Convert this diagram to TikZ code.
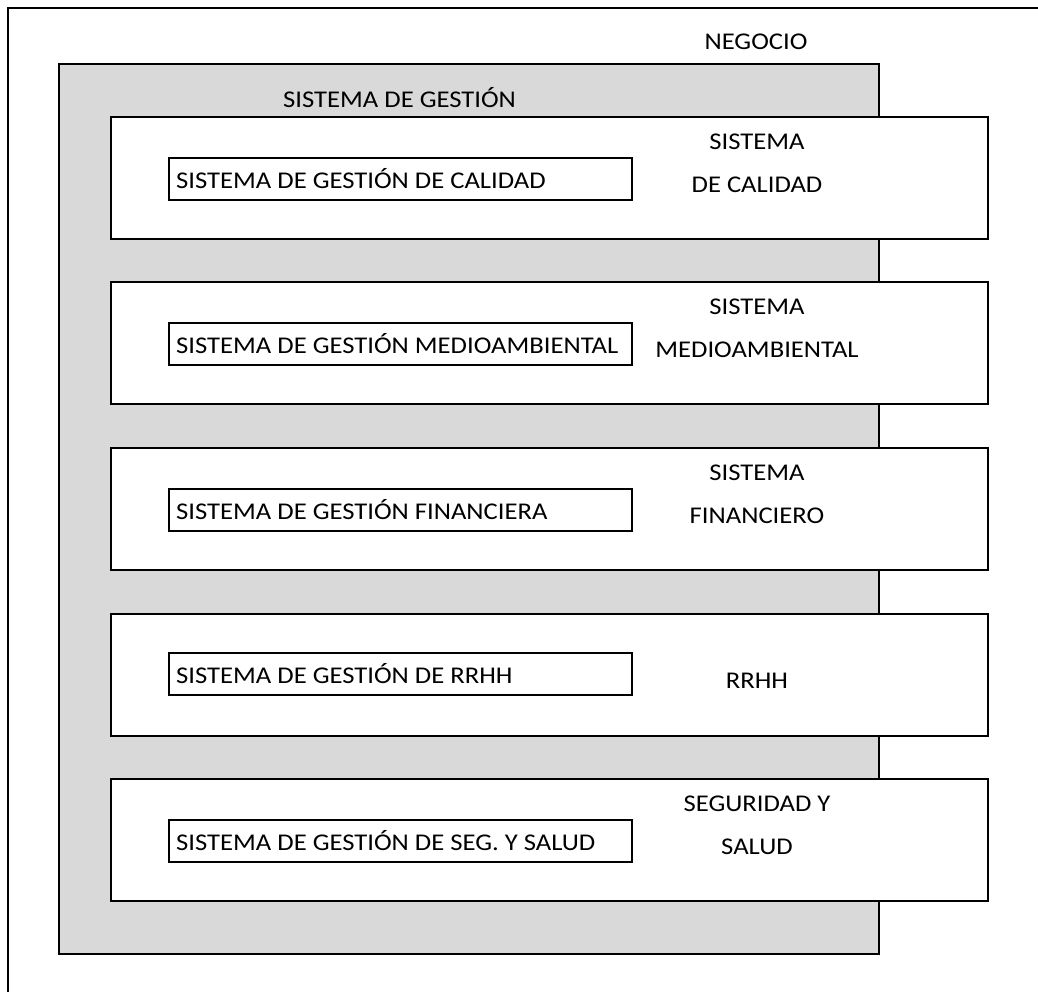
\documentclass[tikz,border=0pt]{standalone}
\usepackage{fontspec}
\setmainfont[FakeStretch=1.11]{Carlito}
\definecolor{grayfill}{HTML}{D9D9D9}
\tikzset{
  frame/.style={draw=black, line width=2pt},
  rowbox/.style={frame, fill=white, anchor=north west, minimum width=877pt, minimum height=122pt, inner sep=0pt},
  subbox/.style={frame, fill=white, anchor=north west, minimum width=463pt, minimum height=42pt, inner sep=0pt},
  txt/.style={font=\fontsize{24}{28}\selectfont, inner sep=0pt},
  lbl/.style={txt, anchor=base},
  lft/.style={txt, anchor=base west}
}
\begin{document}
\begin{tikzpicture}[x=1pt,y=-1pt]
\useasboundingbox (0,0) rectangle (1038,991);
% outer (business) frame, cut by the page edges
\coordinate (otr) at (1045,8);
\coordinate (otl) at (8,8);
\coordinate (obl) at (8,998);
\draw[frame] (otr) -- (otl) -- (obl);
\node[lbl] (negocio) at (756,49) {NEGOCIO};
% management system (gray)
\node[frame, fill=grayfill, anchor=north west, minimum width=820pt, minimum height=890pt, inner sep=0pt] (gestion) at (58,63) {};
\node[lft] (tgestion) at (283,107) {SISTEMA DE GESTIÓN};
% rows
\foreach \i/\top/\sub/\la/\lb in {
  1/116/{SISTEMA DE GESTIÓN DE CALIDAD}/{SISTEMA}/{DE CALIDAD},
  2/281/{SISTEMA DE GESTIÓN MEDIOAMBIENTAL}/{SISTEMA}/{MEDIOAMBIENTAL},
  3/447/{SISTEMA DE GESTIÓN FINANCIERA}/{SISTEMA}/{FINANCIERO},
  5/778/{SISTEMA DE GESTIÓN DE SEG. Y SALUD}/{SEGURIDAD Y}/{SALUD}}{
  \node[rowbox] (row\i) at (110,\top) {};
  \node[subbox] (sub\i) at (168,\top+41) {};
  \node[lft] (subt\i) at (176,\top+72) {\sub};
  \node[lbl] (la\i) at (757,\top+33) {\la};
  \node[lbl] (lb\i) at (757,\top+76) {\lb};
}
\node[rowbox] (row4) at (110,613) {};
\node[subbox] (sub4) at (168,652) {};
\node[lft] (subt4) at (176,683) {SISTEMA DE GESTIÓN DE RRHH};
\node[lbl] (la4) at (757,688) {RRHH};
\end{tikzpicture}
\end{document}
